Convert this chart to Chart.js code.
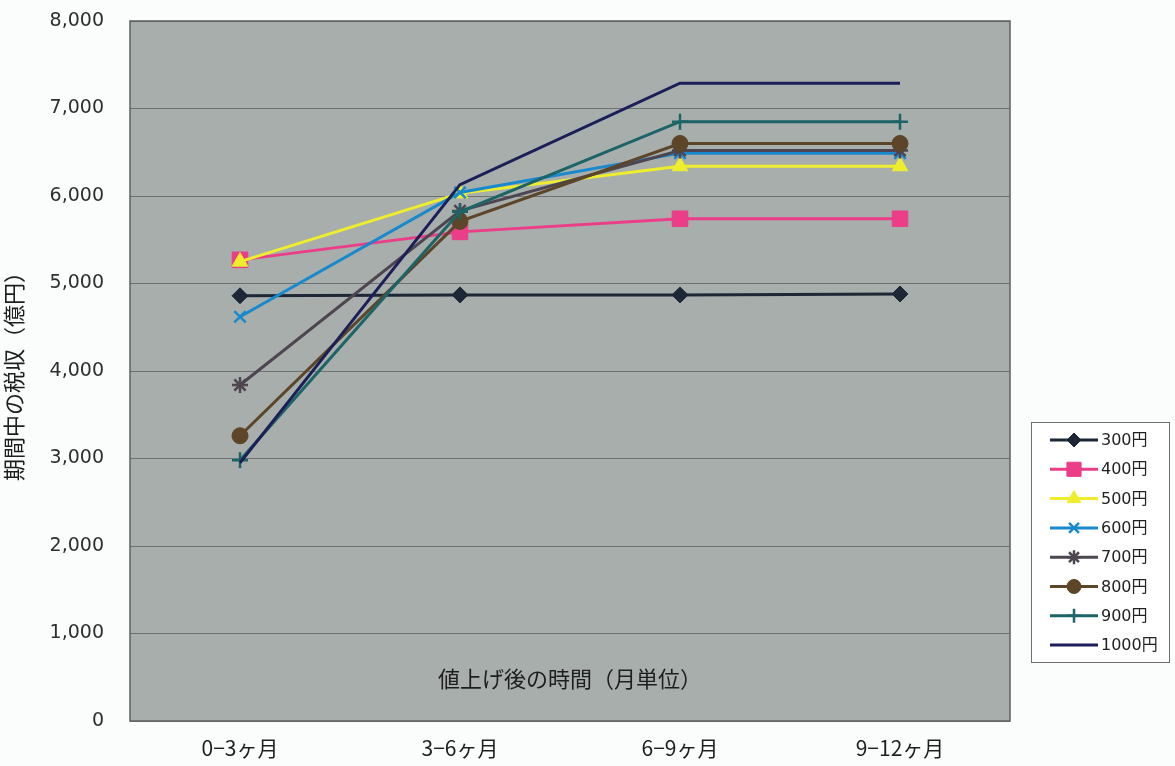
<!DOCTYPE html>
<html>
<head>
<meta charset="utf-8">
<script src="https://cdn.jsdelivr.net/npm/chart.js@4"></script>
<style>
  body { margin: 0; background: #fbfdfd; }
  #wrap { width: 1175px; height: 766px; position: relative; }
</style>
</head>
<body>
<div id="wrap"><canvas id="line-chart" width="1175" height="766"></canvas></div>
<script>
// data
const categories = ['0−3ヶ月', '3−6ヶ月', '6−9ヶ月', '9−12ヶ月'];
const seriesNames = ['300円', '400円', '500円', '600円', '700円', '800円', '900円', '1000円'];
const v300 = [4860, 4870, 4870, 4880];
const v400 = [5270, 5590, 5740, 5740];
const v500 = [5250, 6030, 6340, 6340];
const v600 = [4620, 6040, 6490, 6490];
const v700 = [3840, 5830, 6520, 6520];
const v800 = [3260, 5710, 6600, 6600];
const v900 = [2980, 5820, 6850, 6850];
const v1000 = [2950, 6130, 7290, 7290];
const yTicks = [0, 1000, 2000, 3000, 4000, 5000, 6000, 7000, 8000];

const seriesValues = [v300, v400, v500, v600, v700, v800, v900, v1000];
const colors = ['#1e2736', '#ec3d88', '#eeee2c', '#1889cc', '#4d4650', '#5c4528', '#1d6466', '#1c1e58'];
const markers = ['rectRot', 'rect', 'triangle', 'crossRot', 'star', 'circle', 'cross', false];
const radii = [8, 11, 9, 8, 8, 8, 8, 0];

const datasets = seriesNames.map(function (name, i) {
  return {
    label: name,
    data: seriesValues[i],
    borderColor: colors[i],
    backgroundColor: colors[i],
    borderWidth: 3,
    pointStyle: markers[i],
    pointRadius: radii[i],
    pointBorderWidth: markers[i] == 'crossRot' || markers[i] == 'star' || markers[i] == 'cross' ? 2.5 : 1,
    tension: 0,
    order: seriesNames.length - i
  };
});

// gray plot area, axis title inside, boxed legend on the right
const decor = {
  id: 'decor',
  beforeDraw(chart) {
    const a = chart.chartArea, ctx = chart.ctx;
    ctx.save();
    ctx.fillStyle = '#a7aeac';
    ctx.fillRect(a.left, a.top, a.right - a.left, a.bottom - a.top);
    ctx.restore();
  },
  afterDatasetsDraw(chart) {
    const a = chart.chartArea, ctx = chart.ctx;
    ctx.save();
    ctx.strokeStyle = '#5c6160';
    ctx.lineWidth = 1.5;
    ctx.strokeRect(a.left, a.top, a.right - a.left, a.bottom - a.top);
    ctx.fillStyle = '#1e1e1e';
    ctx.font = '22px "Noto Sans CJK JP"';
    ctx.textAlign = 'center';
    ctx.textBaseline = 'middle';
    ctx.fillText('値上げ後の時間（月単位）', (a.left + a.right) / 2, 679);

    // legend
    ctx.fillStyle = '#ffffff';
    ctx.fillRect(1031, 422, 138, 240);
    ctx.strokeStyle = '#6b6f6e';
    ctx.lineWidth = 1;
    ctx.strokeRect(1031.5, 422.5, 138, 240);
    ctx.font = '16px "DejaVu Sans", "Noto Sans CJK JP"';
    ctx.textAlign = 'left';
    chart.data.datasets.forEach(function (ds, i) {
      const y = 440 + i * 29.3;
      ctx.strokeStyle = ds.borderColor;
      ctx.lineWidth = 3;
      ctx.beginPath();
      ctx.moveTo(1050, y);
      ctx.lineTo(1098, y);
      ctx.stroke();
      if (ds.pointStyle) {
        ctx.lineWidth = ds.pointBorderWidth;
        ctx.fillStyle = ds.backgroundColor;
        Chart.helpers.drawPoint(ctx, {
          pointStyle: ds.pointStyle, radius: ds.pointRadius - 1, borderWidth: ds.pointBorderWidth, rotation: 0
        }, 1074, y);
      }
      ctx.fillStyle = '#222';
      ctx.fillText(ds.label, 1101, y + 1);
    });
    ctx.restore();
  }
};

new Chart(document.getElementById('line-chart'), {
  type: 'line',
  data: { labels: categories, datasets: datasets },
  plugins: [decor],
  options: {
    responsive: false,
    animation: false,
    layout: { padding: { top: 21, right: 165, left: 0, bottom: 0 } },
    plugins: { legend: { display: false }, tooltip: { enabled: false } },
    scales: {
      x: {
        offset: true,
        grid: { display: false, drawTicks: false },
        border: { display: false },
        afterFit: function (s) {
          s.height = 45;
          s.paddingLeft = 0; s.paddingRight = 0;
        },
        ticks: {
          padding: 14,
          color: '#1e1e1e',
          font: { family: '"Noto Sans CJK JP"', size: 21 }
        }
      },
      y: {
        min: 0,
        max: 8000,
        afterFit: function (s) {
          s.width = 130;
          s.paddingTop = 0; s.paddingBottom = 0;
        },
        afterBuildTicks: function (s) { s.ticks = yTicks.map(function (v) { return { value: v }; }); },
        grid: { color: '#6c7270', lineWidth: 1, drawTicks: false },
        border: { display: false },
        title: {
          display: true,
          text: '期間中の税収（億円）',
          color: '#1e1e1e',
          font: { family: '"Noto Sans CJK JP"', size: 22 },
          padding: { top: 0, bottom: 0 }
        },
        ticks: {
          padding: 26,
          color: '#2e2e2e',
          font: { family: '"DejaVu Sans"', size: 19 },
          callback: function (v) { return v.toLocaleString('en-US'); }
        }
      }
    }
  }
});
</script>
</body>
</html>
